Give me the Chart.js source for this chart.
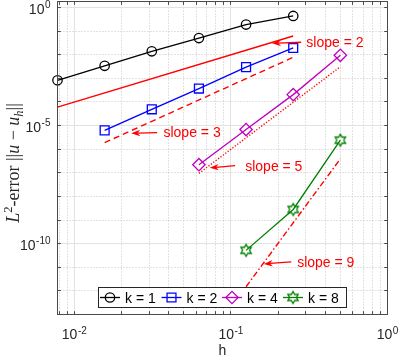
<!DOCTYPE html>
<html><head><meta charset="utf-8">
<script src="https://cdn.jsdelivr.net/npm/chart.js@4.4.0/dist/chart.umd.min.js"></script>
<style>html,body{margin:0;padding:0;background:#fff;overflow:hidden}canvas{display:block}</style>
</head><body>
<canvas id="c" width="399" height="356"></canvas>
<script>
// ---- data ----
const h1 = [1/128, 1/64, 1/32, 1/16, 1/8, 1/4];
const err1 = [8.3e-4, 3.4e-3, 1.4e-2, 5.1e-2, 0.19, 0.44];
const h2 = [1/64, 1/32, 1/16, 1/8, 1/4];
const err2 = [6.3e-6, 4.9e-5, 3.7e-4, 3.0e-3, 1.94e-2];
const h4 = [1/16, 1/8, 1/4, 1/2];
const err4 = [2.2e-7, 6.8e-6, 2.05e-4, 9.5e-3];
const h8 = [1/8, 1/4, 1/2];
const err8 = [5.2e-11, 2.8e-9, 2.4e-6];
const refH2 = [1/128, 1/4]; const ref2 = [6.1e-5, 6.25e-2];
const refH3 = [1/64, 1/4];  const ref3 = [1.9e-6, 7.8e-3];
const refH5 = [1/16, 1/2];  const ref5 = [9.5e-8, 3.1e-3];
const refH9 = [1/8, 1/2];   const ref9 = [1.5e-12, 3.9e-7];
const seriesLabels = ['k = 1', 'k = 2', 'k = 4', 'k = 8'];
const slopeLabels = ['slope = 2', 'slope = 3', 'slope = 5', 'slope = 9'];
const xMajorTicks = [1e-2, 1e-1, 1e0];
const xTickExp = ['-2', '-1', '0'];
const yMajorTicks = [1e0, 1e-5, 1e-10];
const yTickExp = ['0', '-5', '-10'];
const xLimits = [1/128, 1];
const yLimits = [1e-13, 1.8];
const xTitle = 'h';
// annotation anchors in data coordinates (h, error)
const slopeTextAt = [[0.303, 0.0329], [0.0371, 5.05e-6], [0.1234, 1.9e-7], [0.265, 1.66e-11]];
const arrowTail   = [[0.281, 0.0339], [0.0338, 5.05e-6], [0.1064, 2.0e-7], [0.243, 1.7e-11]];
const arrowTip    = [[0.183, 0.0307], [0.0231, 4.72e-6], [0.0732, 1.63e-7], [0.162, 1.39e-11]];

// ---- styles ----
const SANS = '"Liberation Sans", Arial, Helvetica, sans-serif';
const SERIF = '"Liberation Serif", "Times New Roman", serif';
const colors = ['#000000', '#0000ff', '#bf00bf', '#008000'];
const RED = '#ff0000';

function hexagram(color, R, lw) {
  const s = 18;
  const c = document.createElement('canvas');
  c.width = s; c.height = s;
  const g = c.getContext('2d');
  g.strokeStyle = color; g.lineWidth = lw; g.lineJoin = 'miter';
  g.beginPath();
  for (let i = 0; i < 12; i++) {
    const a = -Math.PI / 2 + i * Math.PI / 6;
    const r = (i % 2) ? R / Math.sqrt(3) : R;
    const px = s / 2 + r * Math.cos(a), py = s / 2 + r * Math.sin(a);
    if (i === 0) g.moveTo(px, py); else g.lineTo(px, py);
  }
  g.closePath(); g.stroke();
  return c;
}
const starImg = hexagram(colors[3], 6, 1.3);
const markerStyles = ['circle', 'rect', 'rectRot', starImg];
const markerRadius = [4.7, 6.3, 6.2, 6];

function pts(xs, ys) { return xs.map((x, i) => ({x: x, y: ys[i]})); }

const seriesX = [h1, h2, h4, h8];
const seriesY = [err1, err2, err4, err8];
const datasets = [];
for (let i = 0; i < 4; i++) {
  datasets.push({
    label: seriesLabels[i], data: pts(seriesX[i], seriesY[i]), showLine: true,
    borderColor: colors[i], borderWidth: 1.3, pointStyle: markerStyles[i],
    pointRadius: markerRadius[i], pointBorderWidth: 1.3, pointBorderColor: colors[i],
    pointBackgroundColor: 'rgba(0,0,0,0)', clip: false
  });
}
const refX = [refH2, refH3, refH5, refH9];
const refY = [ref2, ref3, ref5, ref9];
const refDash = [[], [6, 4], [1.2, 1.8], [6, 2.5, 1.5, 2.5]];
for (let i = 0; i < 4; i++) {
  datasets.push({
    label: slopeLabels[i], data: pts(refX[i], refY[i]), showLine: true,
    borderColor: RED, borderWidth: 1.4, borderDash: refDash[i], pointRadius: 0, clip: false
  });
}

function drawMarker(ctx, i, x, y) {
  ctx.save();
  ctx.strokeStyle = colors[i]; ctx.fillStyle = 'rgba(0,0,0,0)'; ctx.lineWidth = 1.3;
  const st = markerStyles[i];
  if (typeof st !== 'string') {
    ctx.drawImage(st, x - st.width / 2, y - st.height / 2);
  } else {
    Chart.helpers.drawPoint(ctx, {pointStyle: st, radius: markerRadius[i], borderWidth: 1.3}, x, y);
  }
  ctx.restore();
}

function drawPow(ctx, exp, x, y, align) {
  ctx.font = '14px ' + SANS; const w1 = ctx.measureText('10').width;
  ctx.font = '10px ' + SANS; const w2 = ctx.measureText(exp).width;
  const total = w1 + w2 + 0.5;
  const left = align === 'right' ? x - total : x - total / 2;
  ctx.textAlign = 'left'; ctx.textBaseline = 'alphabetic';
  ctx.font = '14px ' + SANS; ctx.fillText('10', left, y);
  ctx.font = '10px ' + SANS; ctx.fillText(exp, left + w1 + 0.5, y - 5.5);
}

function drawArrow(ctx, x0, y0, x1, y1) {
  const a = Math.atan2(y1 - y0, x1 - x0);
  const dx = Math.cos(a), dy = Math.sin(a);
  const L = 9, W = 3.2;
  ctx.beginPath(); ctx.moveTo(x0, y0); ctx.lineTo(x1 - dx * L * 0.7, y1 - dy * L * 0.7); ctx.stroke();
  ctx.beginPath();
  ctx.moveTo(x1, y1);
  ctx.lineTo(x1 - dx * L - dy * W, y1 - dy * L + dx * W);
  ctx.lineTo(x1 - dx * L * 0.7, y1 - dy * L * 0.7);
  ctx.lineTo(x1 - dx * L + dy * W, y1 - dy * L - dx * W);
  ctx.closePath(); ctx.fill();
}

const crisp = v => Math.round(v - 0.5) + 0.5;

const matlabPlugin = {
  id: 'matlab',
  beforeDraw(chart) {
    const ctx = chart.ctx;
    ctx.save(); ctx.fillStyle = '#fff'; ctx.fillRect(0, 0, chart.width, chart.height); ctx.restore();
  },
  beforeDatasetsDraw(chart) {
    const ctx = chart.ctx, a = chart.chartArea, xs = chart.scales.x, ys = chart.scales.y;
    ctx.save();
    ctx.lineWidth = 1;
    // minor grid (dotted)
    ctx.strokeStyle = '#c4c4c4'; ctx.setLineDash([1, 2]);
    for (let d = -3; d <= 0; d++) {
      for (let m = 1; m <= 9; m++) {
        const v = m * Math.pow(10, d);
        if (m === 1 || v < xLimits[0] || v >= xLimits[1]) continue;
        const px = crisp(xs.getPixelForValue(v));
        ctx.beginPath(); ctx.moveTo(px, a.top); ctx.lineTo(px, a.bottom); ctx.stroke();
      }
    }
    for (let d = -12; d <= 0; d++) {
      if (d % 5 === 0) continue;
      const py = crisp(ys.getPixelForValue(Math.pow(10, d)));
      ctx.beginPath(); ctx.moveTo(a.left, py); ctx.lineTo(a.right, py); ctx.stroke();
    }
    // major grid
    ctx.setLineDash([]); ctx.strokeStyle = '#e2e2e2';
    xMajorTicks.forEach(v => {
      const px = crisp(xs.getPixelForValue(v));
      ctx.beginPath(); ctx.moveTo(px, a.top); ctx.lineTo(px, a.bottom); ctx.stroke();
    });
    yMajorTicks.forEach(v => {
      const py = crisp(ys.getPixelForValue(v));
      ctx.beginPath(); ctx.moveTo(a.left, py); ctx.lineTo(a.right, py); ctx.stroke();
    });
    ctx.restore();
  },
  afterDatasetsDraw(chart) {
    const ctx = chart.ctx, a = chart.chartArea, xs = chart.scales.x, ys = chart.scales.y;
    ctx.save();
    // box
    ctx.strokeStyle = '#4a4a4a'; ctx.lineWidth = 1;
    ctx.strokeRect(a.left, a.top, a.right - a.left, a.bottom - a.top);
    // ticks
    const TL = 3.3;
    const xTickVals = [];
    for (let d = -3; d <= 0; d++) for (let m = 1; m <= 9; m++) {
      const v = m * Math.pow(10, d);
      if (v >= xLimits[0] && v <= xLimits[1]) xTickVals.push(v);
    }
    ctx.beginPath();
    xTickVals.forEach(v => {
      const px = crisp(xs.getPixelForValue(v));
      ctx.moveTo(px, a.bottom); ctx.lineTo(px, a.bottom - TL);
      ctx.moveTo(px, a.top); ctx.lineTo(px, a.top + TL);
    });
    for (let d = -12; d <= 0; d++) {
      const py = crisp(ys.getPixelForValue(Math.pow(10, d)));
      ctx.moveTo(a.left, py); ctx.lineTo(a.left + TL, py);
      ctx.moveTo(a.right, py); ctx.lineTo(a.right - TL, py);
    }
    ctx.stroke();
    // tick labels
    ctx.fillStyle = '#262626';
    yMajorTicks.forEach((v, i) => drawPow(ctx, yTickExp[i], a.left - 7, ys.getPixelForValue(v) + 6, 'right'));
    xMajorTicks.forEach((v, i) => drawPow(ctx, xTickExp[i], xs.getPixelForValue(v), a.bottom + 24.5, 'center'));
    // x title
    ctx.font = '14px ' + SANS; ctx.textAlign = 'center'; ctx.textBaseline = 'alphabetic';
    ctx.fillText(xTitle, (a.left + a.right) / 2, 354.5);
    // y title
    const FS = 18, FSS = 12.5;
    const segs = [
      {t: 'L', f: 'italic ' + FS + 'px ' + SERIF, dy: 0},
      {t: '2', f: FSS + 'px ' + SERIF, dy: -7},
      {t: '-error ', f: FS + 'px ' + SERIF, dy: 0},
      {t: '||', f: FS + 'px ' + SERIF, dy: 0},
      {t: 'u', f: 'italic ' + FS + 'px ' + SERIF, dy: 0},
      {t: ' \u2212 ', f: FS + 'px ' + SERIF, dy: 0},
      {t: 'u', f: 'italic ' + FS + 'px ' + SERIF, dy: 0},
      {t: 'h', f: 'italic ' + FSS + 'px ' + SERIF, dy: 3.5},
      {t: '||', f: FS + 'px ' + SERIF, dy: 0}
    ];
    let tot = 0;
    segs.forEach(s => { ctx.font = s.f; s.w = ctx.measureText(s.t).width; tot += s.w; });
    ctx.save();
    ctx.translate(19, 163);
    ctx.rotate(-Math.PI / 2);
    ctx.textAlign = 'left'; ctx.fillStyle = '#262626';
    let cx = -tot / 2;
    segs.forEach(s => { ctx.font = s.f; ctx.fillText(s.t, cx, s.dy); cx += s.w; });
    ctx.restore();
    // annotations
    ctx.strokeStyle = RED; ctx.fillStyle = RED; ctx.lineWidth = 1.3;
    ctx.font = '14px ' + SANS; ctx.textAlign = 'left'; ctx.textBaseline = 'alphabetic';
    for (let i = 0; i < 4; i++) {
      drawArrow(ctx, xs.getPixelForValue(arrowTail[i][0]), ys.getPixelForValue(arrowTail[i][1]),
                xs.getPixelForValue(arrowTip[i][0]), ys.getPixelForValue(arrowTip[i][1]));
      ctx.fillText(slopeLabels[i], xs.getPixelForValue(slopeTextAt[i][0]), ys.getPixelForValue(slopeTextAt[i][1]) + 4.5);
    }
    // legend
    const lx0 = 98.5, lx1 = 346.5, ly0 = 287.5, ly1 = 307.5, lcy = (ly0 + ly1) / 2;
    ctx.fillStyle = '#fff'; ctx.fillRect(lx0, ly0, lx1 - lx0, ly1 - ly0);
    ctx.strokeStyle = '#262626'; ctx.lineWidth = 1; ctx.strokeRect(lx0, ly0, lx1 - lx0, ly1 - ly0);
    const centers = [110, 171.5, 232, 293];
    for (let i = 0; i < 4; i++) {
      const c = centers[i];
      ctx.strokeStyle = colors[i]; ctx.lineWidth = 1.3;
      ctx.beginPath(); ctx.moveTo(c - 10, lcy); ctx.lineTo(c + 10, lcy); ctx.stroke();
      drawMarker(ctx, i, c, lcy);
      ctx.fillStyle = '#000'; ctx.font = '14px ' + SANS; ctx.textAlign = 'left';
      ctx.fillText(seriesLabels[i], c + 15, lcy + 5);
    }
    ctx.restore();
  }
};

new Chart(document.getElementById('c'), {
  type: 'scatter',
  data: {datasets: datasets},
  options: {
    responsive: false, animation: false, events: [],
    layout: {autoPadding: false, padding: {left: 0, right: 11.5, top: 1.5, bottom: 0}},
    plugins: {legend: {display: false}, title: {display: false}, tooltip: {enabled: false}},
    scales: {
      x: {type: 'logarithmic', min: xLimits[0], max: xLimits[1], bounds: 'data',
          ticks: {display: false}, grid: {display: false}, border: {display: false},
          afterFit(s) { s.height = 41.5; }},
      y: {type: 'logarithmic', min: yLimits[0], max: yLimits[1], bounds: 'data',
          ticks: {display: false}, grid: {display: false}, border: {display: false},
          afterFit(s) { s.width = 57.5; }}
    }
  },
  plugins: [matlabPlugin]
});
</script>
</body></html>
